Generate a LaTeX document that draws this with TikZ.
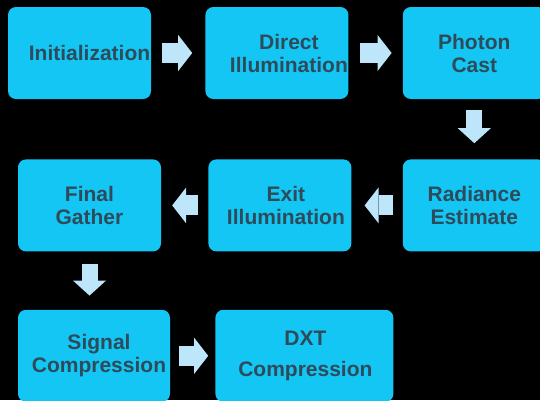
\documentclass[tikz,border=0pt]{standalone}
\usepackage{fontspec}
\setmainfont{Liberation Sans}
\usetikzlibrary{positioning, arrows.meta}
\definecolor{boxcyan}{RGB}{20,198,244}
\definecolor{boxtext}{RGB}{45,75,90}
\definecolor{arrowblue}{RGB}{190,230,250}

\begin{document}
\begin{tikzpicture}[
		x=1pt, y=-1pt,
		mybox/.style={fill=boxcyan, rounded corners=8pt, rectangle, minimum width=143pt, minimum height=92pt, inner sep=0pt},
		boxlabel/.style={inner sep=0pt, align=center, text=boxtext, font=\fontsize{21}{23}\selectfont\bfseries},
		flow/.style={draw=arrowblue, line width=20pt, -{Triangle[length=14pt, width=36pt, line width=0pt]}},
		vflow/.style={draw=arrowblue, line width=16pt, -{Triangle[length=15pt, width=33pt, line width=0pt]}}
	]
	\path[use as bounding box, fill=black] (0,0) rectangle (540,400);
	\clip (0,0) rectangle (540,400);

	\node[mybox, label={[boxlabel, xshift=10pt]center:Initialization}] (init) at (79.5,53) {};
	\node[mybox, right=54pt of init, label={[boxlabel, xshift=12pt]center:Direct\\Illumination}] (direct) {};
	\node[mybox, right=54pt of direct, label={[boxlabel]center:Photon\\Cast}] (photon) {};

	\node[mybox, below=60pt of photon, label={[boxlabel]center:Radiance\\Estimate}] (radiance) {};
	\node[mybox, left=51pt of radiance, label={[boxlabel, xshift=6pt]center:Exit\\Illumination}] (exit) {};
	\node[mybox, left=47pt of exit, label={[boxlabel]center:Final\\Gather}] (final) {};

	\node[mybox, below=58pt of final.south west, anchor=north west, minimum width=152pt, label={[boxlabel, xshift=5pt]center:Signal\\Compression}] (signal) {};
	\node[mybox, right=45pt of signal, minimum width=178pt, label={[boxlabel, xshift=1pt]center:DXT\\[8pt]Compression}] (dxt) {};

	\draw[flow, shorten <=11pt, shorten >=13pt] (init) -- (direct);
	\draw[flow, shorten <=11pt, shorten >=11pt] (direct) -- (photon);
	\draw[vflow, shorten <=11pt, shorten >=16pt] (photon) -- (radiance);
	\draw[flow, shorten <=10pt, shorten >=13pt] (radiance) -- (exit);
	\draw[flow, shorten <=10pt, shorten >=11pt] (exit) -- (final);
	\draw[vflow, shorten <=12pt, shorten >=14pt] (final.south) -- (final.south |- signal.north);
	\draw[flow, shorten <=9pt, shorten >=7pt] (signal) -- (dxt);
\end{tikzpicture}
\end{document}
